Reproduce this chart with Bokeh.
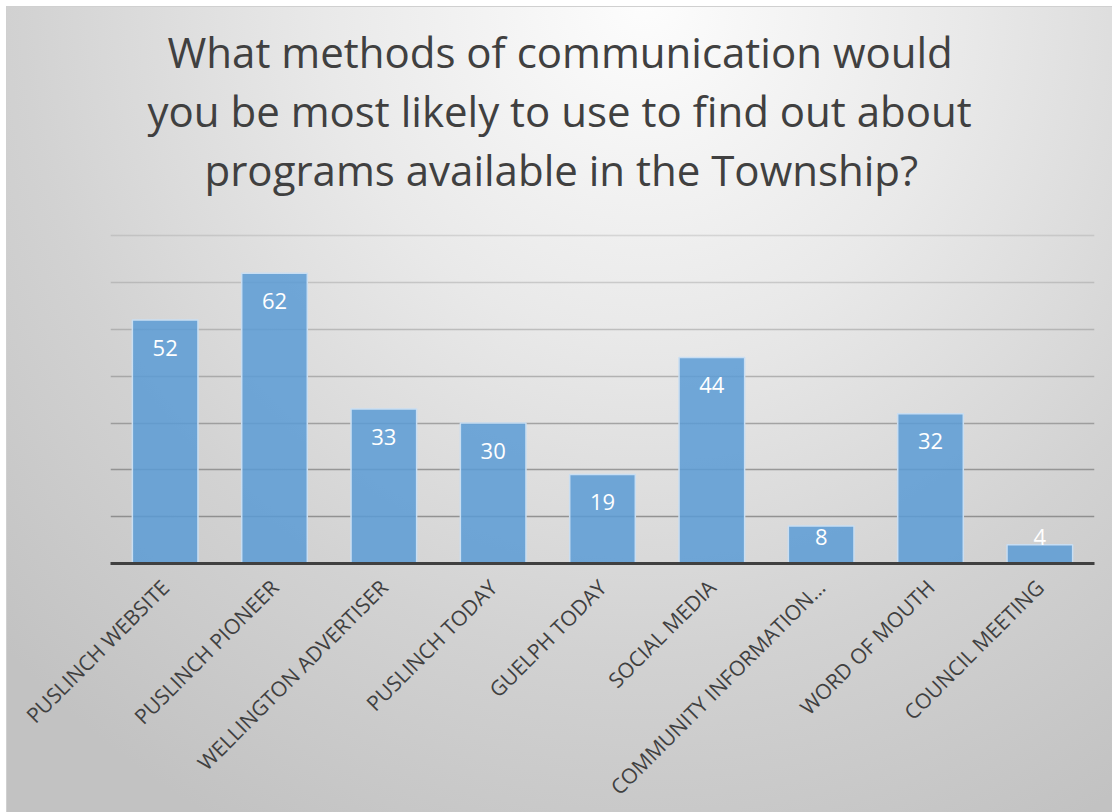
import math
from bokeh.plotting import figure
from bokeh.models import ColumnDataSource, Title, FixedTicker, Grid, LabelSet
from bokeh.core.properties import value
from bokeh.embed import file_html
from bokeh.resources import INLINE

# ---- data ----
categories = ["PUSLINCH WEBSITE", "PUSLINCH PIONEER", "WELLINGTON ADVERTISER",
              "PUSLINCH TODAY", "GUELPH TODAY", "SOCIAL MEDIA",
              "COMMUNITY INFORMATION\u2026", "WORD OF MOUTH", "COUNCIL MEETING"]
counts = [52, 62, 33, 30, 19, 44, 8, 32, 4]
grid_values = [10, 20, 30, 40, 50, 60, 70]
title_lines = ["What methods of communication would",
               "you be most likely to use to find out about",
               "programs available in the Township?"]

# ---- styling ----
grid_alphas = [0.75, 0.7, 0.6, 0.48, 0.38, 0.3, 0.22]
title_offsets = [57, 37, 94]
label_font = "Open Sans"

label_y = [max(v - 7.6, 4.0) for v in counts]
src = ColumnDataSource(dict(cat=categories, val=counts, ly=label_y,
                            txt=[str(v) for v in counts]))

p = figure(x_range=categories, y_range=(0, 70.5),
           frame_width=984, frame_height=330,
           output_backend="svg", toolbar_location=None,
           min_border_left=110, min_border_right=18,
           min_border_top=233, min_border_bottom=247)
p.title = None
p.background_fill_color = None
p.border_fill_color = None
p.outline_line_color = None
bg = ("linear-gradient(#ffffff,#ffffff) 0 0/100% 6px no-repeat, "
      "linear-gradient(#ffffff,#ffffff) 0 0/6px 100% no-repeat, "
      "linear-gradient(#d0d0d0,#d0d0d0) 0 6px/100% 1px no-repeat, "
      "linear-gradient(#d0d0d0,#d0d0d0) 6px 0/1px 100% no-repeat, "
      "radial-gradient(ellipse 80% 115% at 58% 0%, #fdfdfd 0%, #e9e9e9 36%, #d2d2d2 70%, #c2c2c2 100%)")
p.styles = {"background": bg}

p.xgrid.visible = False
p.ygrid.visible = False
for gv, ga in zip(grid_values, grid_alphas):
    g = Grid(dimension=1, ticker=FixedTicker(ticks=[gv]),
             grid_line_color="#7a7a7a", grid_line_alpha=ga, grid_line_width=1.5)
    p.add_layout(g)

p.vbar(x="cat", top="val", width=0.6, source=src,
       fill_color="#5B9BD5", fill_alpha=0.85,
       line_color="#C9DEF2", line_width=1.5)

p.add_layout(LabelSet(x="cat", y="ly", text="txt", source=src,
                      text_align="center", text_baseline="alphabetic",
                      text_color="white", text_font=value(label_font),
                      text_font_size="22px"))

p.yaxis.visible = False
xa = p.xaxis[0]
xa.axis_line_color = "#404040"
xa.axis_line_width = 3
xa.major_tick_line_color = None
xa.major_tick_out = 0
xa.major_tick_in = 0
xa.major_label_orientation = math.pi / 4
xa.major_label_standoff = 20
xa.major_label_text_font = label_font
xa.major_label_text_font_size = "21px"
xa.major_label_text_color = "#404040"

# spacer between the title block and the plot frame
p.add_layout(Title(text=" ", text_font_size="10px", standoff=23), "above")
# title lines: first added sits nearest the plot frame
for line, off in zip(reversed(title_lines), reversed(title_offsets)):
    p.add_layout(Title(text=line, align="left", offset=off, standoff=0,
                       text_font=label_font, text_font_size="42px",
                       text_font_style="normal", text_color="#404040"), "above")

open("out.html", "w").write(file_html(p, INLINE))
